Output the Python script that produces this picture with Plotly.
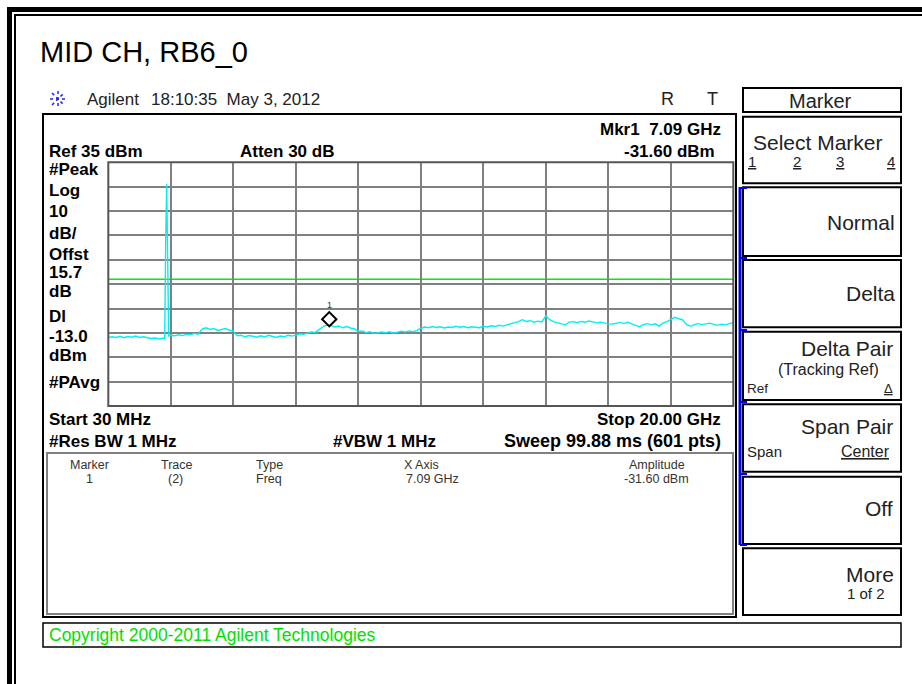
import numpy as np
import plotly.graph_objects as go

W, H = 922, 684

# ---------------- data ----------------
start_ghz = 0.03
stop_ghz = 20.0
ref_level_dbm = 35
db_per_div = 10
display_line_dbm = -13.0
mkr_freq_ghz = 7.09
mkr_level_dbm = -31.60

noise_level_dbm = [
    -36.9, -36.6, -36.9, -36.4, -37.0, -36.5, -36.8, -36.3, -36.9, -36.6, -37.0, -37.3, -37.1, -37.5, -37.2,
    -36.5,
    -36.0, -36.2, -35.8, -36.1, -35.6, -35.8, -35.2, -35.5,
    -33.4, -32.9, -33.6, -33.2, -34.0, -33.5, -33.2, -33.9, -34.3,
    -36.2, -36.0, -36.6, -36.1, -36.4, -36.8, -36.2, -36.7, -36.0, -36.5, -36.9, -36.3, -36.6, -36.0, -36.3, -35.9,
    -35.4, -35.6, -35.0, -34.6, -34.8, -33.6, -32.4, -31.7,
    -31.9, -32.6, -32.2, -32.9, -32.4, -33.0, -33.3,
    -34.4, -34.2, -34.9, -34.5, -35.3, -34.8, -34.6, -35.0, -34.5, -35.2, -34.8, -34.3, -34.6, -34.2, -34.5, -34.0,
    -33.1, -32.6, -32.9, -32.4, -32.8, -32.5, -33.0, -32.6, -32.8, -32.3, -32.7, -32.4, -32.9, -32.5, -32.7, -32.9,
    -32.3, -32.6, -32.1, -32.4,
    -31.9, -32.2, -31.7, -31.3, -30.9, -30.4, -29.6, -30.3, -30.0, -30.6, -30.2, -30.5,
    -28.0, -29.6, -30.4, -30.8, -31.3, -31.7, -30.6, -30.4, -30.8, -30.3, -30.6, -30.1, -30.5, -30.9, -30.6, -31.0,
    -31.3, -31.4, -30.9, -30.7, -31.2, -30.6, -31.3, -31.8, -32.5, -31.6, -31.2, -31.7, -31.3, -32.2,
    -31.0, -30.4, -29.6, -28.6, -29.2, -29.6, -31.5, -32.3, -31.6, -31.2, -31.6, -31.3, -31.0, -31.5, -31.9,
    -31.4, -31.7, -31.2, -30.8,
]
spike_freq_ghz = [1.832, 1.864, 1.896, 1.928, 1.960]
spike_level_dbm = [-37.2, 3.9, 26.0, -5.8, -36.2]

grid_freq = np.linspace(start_ghz, stop_ghz, len(noise_level_dbm))
noise_arr = np.array(noise_level_dbm)
keep = (grid_freq < spike_freq_ghz[0]) | (grid_freq > spike_freq_ghz[-1])
freq = np.concatenate([grid_freq[keep], spike_freq_ghz])
level = np.concatenate([noise_arr[keep], spike_level_dbm])
order = np.argsort(freq)
freq, level = freq[order], level[order]

# ---------------- helpers ----------------
def X(px):
    return px / W

def Y(py):
    return 1 - py / H

FONT = "Liberation Sans, Arial, sans-serif"
annotations = []
shapes = []

def txt(x, y, s, size, anchor="left", color="#000000", bold=False):
    annotations.append(dict(
        x=X(x), y=Y(y), xref="paper", yref="paper", text=("<b>%s</b>" % s) if bold else s,
        showarrow=False, xanchor=anchor, yanchor="middle", borderpad=0,
        font=dict(size=size, color=color, family=FONT)))

def rect(x0, y0, x1, y1, color="#000000", width=2, fill=None):
    d = dict(type="rect", xref="paper", yref="paper", x0=X(x0), x1=X(x1), y0=Y(y0), y1=Y(y1),
             line=dict(color=color, width=width))
    if fill:
        d["fillcolor"] = fill
        d["line"] = dict(width=0)
    shapes.append(d)

def line(x0, y0, x1, y1, color="#000000", width=1, dash="solid"):
    shapes.append(dict(type="line", xref="paper", yref="paper", x0=X(x0), x1=X(x1), y0=Y(y0), y1=Y(y1),
                       line=dict(color=color, width=width, dash=dash)))

# ---------------- frame / screen boxes ----------------
rect(7, 7, 12, H, fill="#000000")
rect(7, 7, W, 12, fill="#000000")
rect(14, 14, 16, H, fill="#000000")
rect(14, 14, W, 16, fill="#000000")

rect(43, 114, 736, 617, color="#000000", width=2)            # main screen
rect(47, 453, 733, 614, color="#808080", width=2)            # marker table
rect(43, 623, 901, 647, color="#000000", width=1.5)          # copyright bar

# softkeys
rect(743, 88, 901, 112, width=2)
for (a, b) in [(116.7, 183.3), (187.3, 256), (260, 327.3), (331.7, 400),
               (404.3, 471.7), (476.7, 544), (548.3, 615)]:
    rect(743, a, 901, b, width=2)
line(740, 187, 740, 545, color="#0000ff", width=3)
for yy in [188, 258, 330, 402, 474, 545]:
    line(740, yy, 747, yy, color="#0000ff", width=2)

# snowflake logo
for (dx, dy) in [(8, 0), (0, 8), (6, 6), (6, -6)]:
    line(58 - dx, 99 - dy, 58 + dx, 99 + dy, color="#2020ff", width=1.5, dash="dot")

# ---------------- texts ----------------
BS = 17  # bold screen font size
txt(39, 52, "MID CH, RB6_0", 29)
txt(86, 99, "Agilent", 17, color="#222222")
txt(150, 99, "18:10:35&nbsp;&nbsp;May 3, 2012", 17, color="#222222")
txt(667, 99, "R", 18, anchor="center", color="#222222")
txt(712, 99, "T", 18, anchor="center", color="#222222")

txt(722, 130, "Mkr1&nbsp;&nbsp;7.09 GHz", BS, anchor="right", bold=True)
txt(716, 151, "-31.60 dBm", BS, anchor="right", bold=True)
txt(48, 151, "Ref 35 dBm", BS, bold=True)
txt(239, 151, "Atten 30 dB", BS, bold=True)

left_labels = [("#Peak", 170), ("Log", 191), ("10", 212), ("dB/", 233), ("Offst", 254),
               ("15.7", 272), ("dB", 292), ("Dl", 316), ("-13.0", 336), ("dBm", 355), ("#PAvg", 382)]
for s, yy in left_labels:
    txt(48, yy, s, BS, bold=True)

txt(48, 419, "Start 30 MHz", BS, bold=True)
txt(722, 419, "Stop 20.00 GHz", BS, anchor="right", bold=True)
txt(48, 441, "#Res BW 1 MHz", BS, bold=True)
txt(332, 441, "#VBW 1 MHz", BS, bold=True)
txt(722, 441, "Sweep 99.88 ms (601 pts)", 18, anchor="right", bold=True)

tc = "#333333"
TS = 12.5
txt(89, 465, "Marker", TS, anchor="center", color=tc)
txt(177, 465, "Trace", TS, anchor="center", color=tc)
txt(255, 465, "Type", TS, color=tc)
txt(421, 465, "X Axis", TS, anchor="center", color=tc)
txt(657, 465, "Amplitude", TS, anchor="center", color=tc)
txt(89, 479, "1", TS, anchor="center", color=tc)
txt(175, 479, "(2)", TS, anchor="center", color=tc)
txt(255, 479, "Freq", TS, color=tc)
txt(405, 479, "7.09 GHz", TS, color=tc)
txt(623, 479, "-31.60 dBm", TS, color=tc)

txt(48, 635, "Copyright 2000-2011 Agilent Technologies", 17.5, color="#00e000")

sk = "#222222"
KS = 21
txt(820, 101, "Marker", 20, anchor="center", color=sk)
txt(818, 142, "Select Marker", KS, anchor="center", color=sk)
txt(747, 162, "<u>1</u>", 15, color=sk)
txt(797, 162, "<u>2</u>", 15, anchor="center", color=sk)
txt(840, 162, "<u>3</u>", 15, anchor="center", color=sk)
txt(896, 162, "<u>4</u>", 15, anchor="right", color=sk)
txt(896, 223, "Normal", KS, anchor="right", color=sk)
txt(896, 293, "Delta", KS, anchor="right", color=sk)
txt(894, 348, "Delta Pair", KS, anchor="right", color=sk)
txt(880, 369, "(Tracking Ref)", 16, anchor="right", color=sk)
txt(746, 388, "Ref", 13.5, color=sk)
txt(894, 388, "<u>Δ</u>", 13, anchor="right", color=sk)
txt(894, 426, "Span Pair", KS, anchor="right", color=sk)
txt(746, 451, "Span", 15, color=sk)
txt(891, 451, "<u>Center</u>", 16, anchor="right", color=sk)
txt(894, 508, "Off", KS, anchor="right", color=sk)
txt(895, 574, "More", KS, anchor="right", color=sk)
txt(886, 593, "1 of 2", 15, anchor="right", color=sk)

# marker label "1"
annotations.append(dict(x=mkr_freq_ghz, y=mkr_level_dbm, xref="x", yref="y", text="1",
                        showarrow=False, yshift=20, font=dict(size=9, color="#333333", family=FONT)))

# ---------------- plot ----------------
fig = go.Figure()
fig.add_trace(go.Scatter(x=freq, y=level, mode="lines",
                         line=dict(color="#00f0f0", width=1.4), hoverinfo="skip"))
marker_offset_db = 2.2
fig.add_trace(go.Scatter(x=[mkr_freq_ghz], y=[mkr_level_dbm + marker_offset_db], mode="markers",
                         marker=dict(symbol="diamond-open", size=11, color="#000000",
                                     line=dict(width=2, color="#000000")), hoverinfo="skip"))

shapes.append(dict(type="line", xref="x", yref="y", x0=start_ghz, x1=stop_ghz,
                   y0=display_line_dbm, y1=display_line_dbm, line=dict(color="#00ee00", width=1.5),
                   layer="below"))
# plot frame
shapes.append(dict(type="rect", xref="paper", yref="paper", x0=X(108.3), x1=X(733.3),
                   y0=Y(406), y1=Y(162.3), line=dict(color="#555555", width=2)))

x_div = (stop_ghz - start_ghz) / 10
fig.update_layout(
    width=W, height=H, margin=dict(l=0, r=0, t=0, b=0),
    paper_bgcolor="#ffffff", plot_bgcolor="#ffffff", showlegend=False,
    xaxis=dict(domain=[X(108.3), X(733.3)], range=[start_ghz, stop_ghz], tick0=start_ghz, dtick=x_div,
               showgrid=True, gridcolor="#808080", gridwidth=1.5, showticklabels=False, ticks="",
               zeroline=False, showline=False, fixedrange=True),
    yaxis=dict(domain=[Y(406), Y(162.3)], range=[ref_level_dbm - 10 * db_per_div, ref_level_dbm],
               tick0=ref_level_dbm, dtick=db_per_div, showgrid=True, gridcolor="#808080", gridwidth=1.5,
               showticklabels=False, ticks="", zeroline=False, showline=False, fixedrange=True),
    shapes=shapes, annotations=annotations,
)

fig.write_html("out.html", config={"displayModeBar": False},
               post_script="document.body.style.margin='0';document.body.style.overflow='hidden';")
